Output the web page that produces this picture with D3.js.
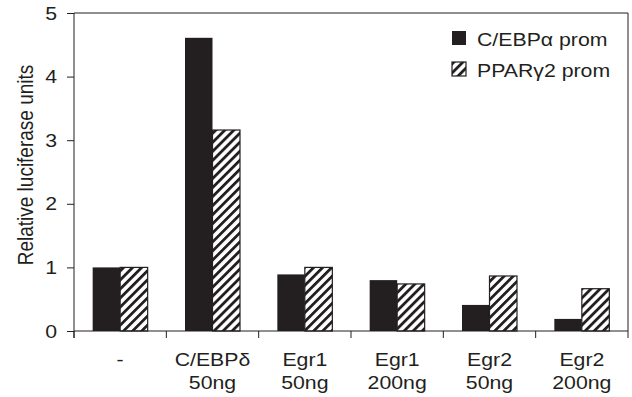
<!DOCTYPE html>
<html lang="en">
<head>
<meta charset="UTF-8"/>
<title>Relative luciferase units</title>
<script src="https://d3js.org/d3.v7.min.js"></script>
<style>
	body { margin: 0; background: #fff; }
	text { font-family: "Liberation Sans", Arial, sans-serif; fill: #231f20; }
</style>
</head>
<body>
<script>

	var w = 632;
	var h = 397;

	// data
	var groups = [["-", ""], ["C/EBP\u03b4", "50ng"], ["Egr1", "50ng"], ["Egr1", "200ng"], ["Egr2", "50ng"], ["Egr2", "200ng"]];
	var cebpa = [1.0, 4.61, 0.89, 0.80, 0.41, 0.19];
	var pparg = [1.0, 3.16, 1.0, 0.74, 0.865, 0.665];
	var seriesNames = ["C/EBP\u03b1 prom", "PPAR\u03b32 prom"];
	var yTicks = [0, 1, 2, 3, 4, 5];

	// plot box (note: "top" is reserved on window, so use pTop etc)
	var pLeft = 74, pRight = 628, pTop = 13, pBottom = 331;
	var ink = "#231f20";
	var stretch = "scale(1.12,1)"; // the original figure text is a bit wide

	var xScale = d3.scaleBand()
		.domain(d3.range(groups.length))
		.range([pLeft, pRight])
		.paddingInner(0);

	var yScale = d3.scaleLinear()
		.domain([0, 5])
		.range([pBottom, pTop]);

	var barW = 27.5;

	var svg = d3.select("body")
		.append("svg")
		.attr("width", w)
		.attr("height", h);

	// hatch pattern
	var defs = svg.append("defs");
	defs.append("pattern")
		.attr("id", "hatch")
		.attr("patternUnits", "userSpaceOnUse")
		.attr("width", 6.4)
		.attr("height", 6.4)
		.attr("patternTransform", "rotate(45)")
		.call(function(p){
			p.append("rect").attr("width", 6.4).attr("height", 6.4).attr("fill", "#fff");
			p.append("rect").attr("x", 0).attr("width", 2.8).attr("height", 6.4).attr("fill", ink);
		});

	// frame (top and right)
	svg.append("path")
		.attr("d", "M" + pLeft + "," + pTop + "H" + pRight + "V" + pBottom)
		.attr("fill", "none")
		.attr("stroke", ink)
		.attr("stroke-width", 1);

	// bars
	svg.selectAll(".barA")
		.data(cebpa)
		.enter()
		.append("rect")
		.attr("x", function(d, i){ return xScale(i) + xScale.bandwidth() / 2 - barW; })
		.attr("y", function(d){ return yScale(d); })
		.attr("width", barW)
		.attr("height", function(d){ return pBottom - yScale(d); })
		.attr("fill", ink);

	svg.selectAll(".barB")
		.data(pparg)
		.enter()
		.append("rect")
		.attr("x", function(d, i){ return xScale(i) + xScale.bandwidth() / 2; })
		.attr("y", function(d){ return yScale(d); })
		.attr("width", barW)
		.attr("height", function(d){ return pBottom - yScale(d); })
		.attr("fill", "url(#hatch)")
		.attr("stroke", ink)
		.attr("stroke-width", 1.2);

	// y axis
	var yAxis = d3.axisLeft(yScale)
		.tickValues(yTicks)
		.tickSize(7)
		.tickPadding(8)
		.tickFormat(d3.format("d"));

	var gy = svg.append("g")
		.attr("transform", "translate(" + pLeft + ",0)")
		.call(yAxis);
	gy.select(".domain").remove();
	gy.selectAll("line").attr("stroke", ink);
	gy.selectAll("text")
		.style("font-size", "19px")
		.attr("fill", ink)
		.attr("transform", stretch);
	svg.append("line")
		.attr("x1", pLeft).attr("x2", pLeft)
		.attr("y1", pTop).attr("y2", pBottom + 7)
		.attr("stroke", ink);

	// x axis with ticks at group boundaries
	svg.append("line")
		.attr("x1", pLeft).attr("x2", pRight)
		.attr("y1", pBottom).attr("y2", pBottom)
		.attr("stroke", ink);
	var edges = d3.range(groups.length + 1).map(function(i){ return pLeft + i * xScale.step(); });
	svg.selectAll(".xtick")
		.data(edges)
		.enter()
		.append("line")
		.attr("x1", function(d){ return d; })
		.attr("x2", function(d){ return d; })
		.attr("y1", pBottom)
		.attr("y2", pBottom + 7)
		.attr("stroke", ink);

	var xl = svg.selectAll(".xlab")
		.data(groups)
		.enter()
		.append("text")
		.attr("text-anchor", "middle")
		.style("font-size", "19px")
		.attr("transform", function(d, i){ return "translate(" + (xScale(i) + xScale.bandwidth() / 2) + ",0) " + stretch; });
	xl.append("tspan")
		.attr("x", 0)
		.attr("y", 366)
		.text(function(d){ return d[0]; });
	xl.append("tspan")
		.attr("x", 0)
		.attr("y", 389)
		.text(function(d){ return d[1]; });

	// y label
	svg.append("text")
		.attr("text-anchor", "middle")
		.attr("transform", "translate(33,165) " + stretch + " rotate(-90)")
		.style("font-size", "19px")
		.text("Relative luciferase units");

	// legend
	var legend = svg.selectAll(".leg")
		.data(seriesNames)
		.enter()
		.append("g")
		.attr("transform", function(d, i){ return "translate(452," + (31 + i * 31) + ")"; });
	legend.append("rect")
		.attr("width", 14)
		.attr("height", 14)
		.attr("fill", function(d, i){ return i === 0 ? ink : "url(#hatch)"; })
		.attr("stroke", ink)
		.attr("stroke-width", function(d, i){ return i === 0 ? 0 : 1.2; });
	legend.append("text")
		.attr("transform", "translate(25,15) " + stretch)
		.style("font-size", "19px")
		.text(function(d){ return d; });

</script>
</body>
</html>
